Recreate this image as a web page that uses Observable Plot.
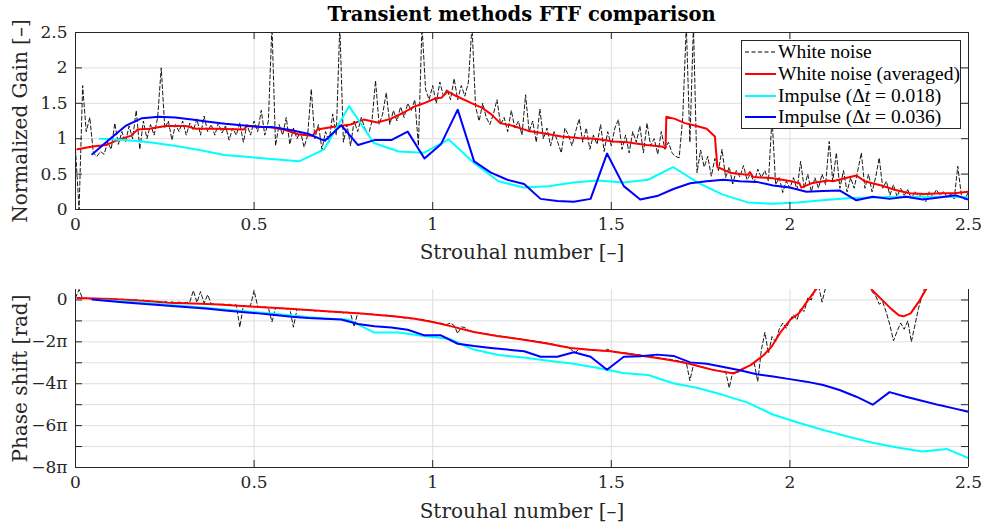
<!DOCTYPE html>
<html><head><meta charset="utf-8">
<script src="https://cdn.jsdelivr.net/npm/d3@7"></script>
<script src="https://cdn.jsdelivr.net/npm/@observablehq/plot@0.6"></script>
<style>
body{margin:0;background:#fff;}
#wrap{position:relative;width:985px;height:527px;font-family:"DejaVu Serif",serif;overflow:hidden;}
#title{position:absolute;left:75px;width:893px;top:0;height:28px;line-height:30px;text-align:center;font-weight:bold;font-size:19.5px;color:#000;}
#top{position:absolute;left:0;top:28px;}
#bottom{position:absolute;left:0;top:262px;}
#legend{position:absolute;left:741px;top:40px;width:220px;height:89px;box-sizing:border-box;border:1px solid #262626;background:#fff;font-family:"Liberation Serif",serif;font-size:19.5px;color:#000;}
.row{position:absolute;left:3px;height:22px;display:flex;align-items:center;white-space:nowrap;}
.row svg{margin-right:2px;}
svg{display:block}
</style></head><body>
<div id="wrap"><div id="title">Transient methods FTF comparison</div><div id="top"></div><div id="bottom"></div><div id="legend"></div></div>
<script>
// ---------- data ----------
const stTicks = [0, 0.5, 1, 1.5, 2, 2.5];
const gainTicks = [0, 0.5, 1, 1.5, 2, 2.5];
const phaseLabelTicks = [0, -2, -4, -6, -8];
const phaseGridTicks = [-8, -7, -6, -5, -4, -3, -2, -1, 0];

const seriesNames = ["White noise", "White noise (averaged)", "Impulse (Δt = 0.018)", "Impulse (Δt = 0.036)"];
const seriesColors = ["#000000", "#ff0000", "#00ffff", "#0000ff"];

// White noise gain, sampled every 0.01 in St (0 .. 2.5)
const noiseGain = [
0.85,0.00,1.75,1.10,1.30,0.80,0.75,0.82,0.78,0.95,
0.85,1.22,0.92,1.10,0.95,1.18,1.00,1.40,0.85,1.25,
1.00,1.20,1.05,1.30,2.00,1.15,1.25,0.98,1.20,1.10,
1.25,1.05,1.22,1.12,1.28,1.05,1.32,1.10,1.20,1.05,
1.22,1.08,1.18,0.98,1.15,1.05,1.22,0.95,1.20,1.05,
1.25,1.10,1.40,1.05,1.25,2.60,0.90,1.20,1.05,1.30,
0.92,1.15,1.00,1.10,0.88,1.05,1.70,1.00,1.20,0.85,
1.10,0.95,1.35,1.05,2.60,0.95,1.20,0.90,1.25,1.10,
1.30,1.15,1.05,1.25,1.82,1.20,1.35,1.65,1.20,1.40,
1.25,1.45,1.30,1.50,1.40,1.55,0.90,2.60,1.70,1.55,
1.75,1.50,1.80,1.60,1.70,1.55,1.85,1.55,1.75,1.60,
1.80,2.60,1.45,1.25,1.50,1.30,1.20,1.35,1.55,1.20,
1.30,1.10,1.40,1.15,1.25,1.05,1.62,1.10,1.25,0.95,
1.42,1.00,1.15,0.90,1.10,0.95,0.80,1.15,1.05,0.90,
1.10,1.28,0.95,1.15,0.85,1.05,0.92,1.20,0.82,1.10,
0.90,1.15,1.27,0.85,1.05,0.80,1.10,0.95,1.18,0.80,
1.22,0.90,1.00,0.78,1.10,0.85,0.95,0.80,0.75,0.73,
1.30,2.60,0.95,2.60,0.52,0.84,0.60,0.75,0.47,0.72,
0.55,0.85,0.45,0.60,0.36,0.55,0.46,0.62,0.42,0.50,
0.38,0.57,0.45,0.55,0.40,1.30,0.35,0.45,0.24,0.40,
0.30,0.45,0.28,0.68,0.30,0.50,0.25,0.45,0.30,0.50,
0.35,0.96,0.40,0.80,0.30,0.55,0.25,0.45,0.30,0.55,
0.80,0.30,0.50,0.25,0.45,0.73,0.30,0.40,0.20,0.35,
0.18,0.30,0.20,0.28,0.15,0.25,0.18,0.22,0.11,0.25,
0.18,0.28,0.20,0.25,0.18,0.22,0.15,0.61,0.20,0.14,
0.25];

// White noise phase (multiples of pi), sampled every 0.01 in St (0 .. 2.38), null = wrapped out of view
const noisePhase = [
0.10,0.50,0.05,0.10,0.05,0.08,0.03,0.06,0.02,0.05,
0.02,0.06,0.00,0.04,-0.02,0.02,-0.03,0.01,-0.04,-0.01,
-0.06,-0.03,-0.08,-0.05,-0.10,-0.07,-0.12,-0.09,-0.14,-0.10,
-0.15,-0.12,-0.10,0.45,-0.12,0.40,-0.15,0.25,-0.18,-0.20,
-0.22,-0.18,-0.25,-0.20,-0.27,-0.23,-1.30,-0.26,-0.30,-0.27,
0.45,-0.30,-0.36,-0.33,-0.38,-1.05,-0.38,-0.42,-0.39,-0.44,
-0.41,-1.30,-0.45,-0.48,-0.46,-0.50,-0.48,-0.53,-0.50,-0.55,
-0.52,-0.57,-0.54,-0.58,-0.55,-0.62,-0.58,-0.64,-1.28,-0.62,
-0.66,-0.64,-0.70,-0.67,-0.72,-0.70,-0.75,-0.72,-0.78,-0.75,
-0.80,-0.82,-0.86,-0.84,-0.90,-0.88,-0.94,-0.92,-0.98,-1.00,
-1.05,-1.08,-1.10,-1.14,-1.17,-1.10,-1.22,-1.60,-1.28,-1.32,
-1.45,-1.50,-1.55,-1.55,-1.60,-1.62,-1.65,-1.68,-1.70,-1.73,
-1.75,-1.78,-1.80,-1.83,-1.85,-1.88,-1.90,-1.93,-1.95,-1.98,
-2.00,-2.03,-2.06,-2.10,-2.12,-2.18,-2.20,-2.23,-2.26,-2.40,
-2.50,-2.33,-2.35,-2.37,-2.38,-2.40,-2.41,-2.42,-2.44,-2.35,
-2.45,-2.48,-2.50,-2.52,-2.53,-2.55,-2.58,-2.60,-2.62,-2.65,
-2.68,-2.70,-2.72,-2.75,-2.78,-2.80,-2.82,-2.86,-2.88,-2.92,
-2.95,-3.00,-3.85,-3.10,-3.12,-3.18,-3.22,-3.28,-3.32,-3.35,
-3.38,-3.42,-3.40,-4.20,-3.45,-3.50,-3.40,-3.30,-3.20,-3.10,
-3.00,-3.90,-2.40,-1.55,-2.55,-1.75,-2.00,-1.40,-1.10,-1.35,
-0.95,-0.70,-0.95,-0.40,-0.55,0.10,0.00,0.50,0.70,-0.10,
0.60,null,null,null,null,null,null,null,null,null,
null,null,0.70,0.40,0.20,-0.20,-0.10,-0.60,-1.20,-1.95,
-1.50,-1.10,-1.40,-1.00,-2.00,-1.20,-0.40,0.20,0.70];

// White noise (averaged) gain
const avgGainSt = [0.005,0.048,0.085,0.122,0.155,0.174,0.206,0.253,0.309,0.337,0.393,0.472,0.48,0.51,0.546,0.583,0.625,0.663,0.677,0.723,0.77,0.807,0.845,0.882,0.919,0.947,0.975,1.008,1.025,1.042,1.063,1.11,1.137,1.165,1.189,1.226,1.268,1.305,1.361,1.408,1.455,1.506,1.543,1.599,1.64,1.652,1.654,1.678,1.706,1.739,1.767,1.79,1.797,1.832,1.86,1.883,1.888,1.897,1.953,2.004,2.027,2.032,2.06,2.106,2.12,2.186,2.209,2.256,2.293,2.335,2.377,2.424,2.46,2.5];
const avgGain   = [0.85,0.89,0.91,0.99,1.04,1.13,1.14,1.18,1.18,1.14,1.14,1.13,1.18,1.17,1.16,1.13,1.06,1.04,1.13,1.17,1.20,1.27,1.23,1.28,1.37,1.45,1.50,1.57,1.58,1.67,1.61,1.50,1.44,1.34,1.22,1.18,1.11,1.08,1.03,1.01,1.00,0.96,0.95,0.91,0.89,0.87,1.31,1.28,1.22,1.18,1.14,1.03,0.60,0.52,0.50,0.49,0.53,0.46,0.44,0.40,0.37,0.31,0.37,0.41,0.40,0.48,0.40,0.34,0.28,0.23,0.22,0.23,0.23,0.25];

// White noise (averaged) phase (multiples of pi), null = wrapped out of view
const avgPhaseSt = [0.005,0.1,0.2,0.257,0.35,0.4,0.5,0.6,0.723,0.8,0.905,0.95,1.0,1.05,1.115,1.18,1.255,1.32,1.386,1.44,1.498,1.56,1.628,1.68,1.722,1.75,1.787,1.843,1.866,1.89,1.927,1.95,1.974,2.002,2.025,2.048,2.072,2.09,2.15,2.215,2.23,2.263,2.285,2.305,2.318,2.338,2.361,2.38,2.395];
const avgPhase   = [0.10,0.05,-0.05,-0.13,-0.18,-0.22,-0.32,-0.42,-0.56,-0.65,-0.80,-0.90,-1.05,-1.25,-1.53,-1.72,-1.90,-2.08,-2.29,-2.38,-2.45,-2.60,-2.77,-2.92,-3.06,-3.19,-3.35,-3.51,-3.30,-3.11,-2.63,-2.20,-1.53,-0.93,-0.64,-0.08,0.48,0.90,null,0.90,0.48,-0.08,-0.45,-0.73,-0.78,-0.64,-0.08,0.48,0.90];

// Impulse (dt = 0.018)
const imp018St    = [0.068,0.138,0.207,0.277,0.347,0.417,0.487,0.556,0.626,0.696,0.766,0.835,0.905,0.975,1.045,1.115,1.184,1.254,1.324,1.394,1.463,1.533,1.603,1.673,1.742,1.812,1.882,1.952,2.022,2.091,2.161,2.231,2.301,2.370,2.440,2.510];
const imp018Gain  = [1.00,0.98,0.95,0.90,0.84,0.77,0.74,0.71,0.68,0.85,1.46,0.94,0.82,0.80,0.99,0.66,0.40,0.31,0.33,0.38,0.41,0.38,0.42,0.60,0.38,0.21,0.10,0.08,0.10,0.13,0.16,0.17,0.18,0.18,0.18,0.17];
const imp018Phase = [0.00,-0.07,-0.16,-0.25,-0.35,-0.45,-0.56,-0.66,-0.78,-0.88,-0.95,-1.55,-1.55,-1.72,-1.85,-2.37,-2.63,-2.75,-2.90,-3.05,-3.25,-3.49,-3.58,-3.98,-4.20,-4.53,-4.90,-5.47,-5.85,-6.20,-6.52,-6.82,-7.05,-7.24,-7.12,-7.62];

// Impulse (dt = 0.036)
const imp036St    = [0.047,0.093,0.14,0.186,0.233,0.279,0.326,0.372,0.419,0.465,0.512,0.558,0.605,0.651,0.698,0.744,0.791,0.837,0.884,0.930,0.977,1.023,1.070,1.116,1.163,1.209,1.256,1.302,1.349,1.395,1.442,1.488,1.535,1.581,1.628,1.674,1.721,1.767,1.814,1.860,1.907,1.953,2.000,2.046,2.093,2.139,2.186,2.232,2.279,2.325,2.372,2.418,2.465,2.511];
const imp036Gain  = [0.78,0.98,1.18,1.29,1.31,1.30,1.27,1.24,1.21,1.19,1.17,1.16,1.12,1.07,0.97,1.19,0.91,0.98,0.98,1.10,0.72,0.92,1.41,0.68,0.52,0.42,0.36,0.15,0.12,0.11,0.15,0.79,0.33,0.14,0.19,0.29,0.37,0.40,0.42,0.40,0.39,0.34,0.31,0.25,0.26,0.27,0.13,0.18,0.15,0.18,0.14,0.17,0.20,0.12];
const imp036Phase = [0.02,-0.05,-0.12,-0.18,-0.24,-0.30,-0.36,-0.42,-0.50,-0.57,-0.64,-0.72,-0.80,-0.86,-0.90,-0.93,-1.15,-1.25,-1.32,-1.42,-1.69,-1.69,-2.09,-2.20,-2.29,-2.37,-2.45,-2.71,-2.71,-2.50,-2.71,-3.33,-2.71,-2.69,-2.61,-2.67,-2.98,-3.05,-3.20,-3.36,-3.55,-3.65,-3.78,-3.90,-4.06,-4.30,-4.62,-5.00,-4.40,-4.62,-4.82,-5.02,-5.20,-5.38];

// ---------- tables ----------
const noiseG = noiseGain.map((v, i) => ({st: i / 100, v}));
const noiseP = noisePhase.map((v, i) => ({st: i / 100, v}));
const zipT = (xs, ys) => xs.map((x, i) => ({st: x, v: ys[i]}));
const avgG = zipT(avgGainSt, avgGain), avgP = zipT(avgPhaseSt, avgPhase);
const i18G = zipT(imp018St, imp018Gain), i18P = zipT(imp018St, imp018Phase);
const i36G = zipT(imp036St, imp036Gain), i36P = zipT(imp036St, imp036Phase);

const AX = "#262626", GRID = "#dedede";
const FONT = '"DejaVu Serif", serif';
const W = 985, ML = 75, MR = 17;
const PW = W - ML - MR;

function lines(nG, aG, cG, bG) {
  return [
    Plot.line(nG, {x: "st", y: "v", stroke: seriesColors[0], strokeWidth: 0.9, strokeDasharray: "4,2.5", clip: true}),
    Plot.line(aG, {x: "st", y: "v", stroke: seriesColors[1], strokeWidth: 2, clip: true}),
    Plot.line(cG, {x: "st", y: "v", stroke: seriesColors[2], strokeWidth: 2, clip: true}),
    Plot.line(bG, {x: "st", y: "v", stroke: seriesColors[3], strokeWidth: 2, clip: true})
  ];
}

// ---------- top plot ----------
const H1 = 234, MT1 = 4, MB1 = 53, PH1 = H1 - MT1 - MB1;
const topPlot = Plot.plot({
  width: W, height: H1, marginLeft: ML, marginRight: MR, marginTop: MT1, marginBottom: MB1,
  style: {fontFamily: FONT, fontSize: "17px", color: AX, background: "white", overflow: "visible"},
  x: {domain: [0, 2.5]},
  y: {domain: [0, 2.5]},
  marks: [
    Plot.gridX(stTicks.slice(1, -1), {stroke: GRID, strokeOpacity: 1}),
    Plot.gridY(gainTicks.slice(1, -1), {stroke: GRID, strokeOpacity: 1}),
    ...lines(noiseG, avgG, i18G, i36G),
    Plot.frame({stroke: AX}),
    Plot.tickX(stTicks, {x: d => d, insetTop: PH1 - 7, stroke: AX}),
    Plot.tickX(stTicks, {x: d => d, insetBottom: PH1 - 7, stroke: AX}),
    Plot.tickY(gainTicks, {y: d => d, insetRight: PW - 7, stroke: AX}),
    Plot.tickY(gainTicks, {y: d => d, insetLeft: PW - 7, stroke: AX}),
    Plot.axisX(stTicks, {tickSize: 0, tickPadding: 8, tickFormat: d => String(d), label: null}),
    Plot.axisY(gainTicks, {tickSize: 0, tickPadding: 8, tickFormat: d => String(d), label: null}),
    Plot.text(["Strouhal number [–]"], {text: d => d, frameAnchor: "bottom", dy: 43, lineAnchor: "middle", textAnchor: "middle", fontSize: 20, fill: AX}),
    Plot.text(["Normalized Gain [–]"], {text: d => d, frameAnchor: "left", dx: -55, rotate: -90, lineAnchor: "middle", textAnchor: "middle", fontSize: 20, fill: AX})
  ]
});
document.getElementById("top").appendChild(topPlot);

// ---------- bottom plot ----------
const H2 = 265, MT2 = 27, MB2 = 60, PH2 = H2 - MT2 - MB2;
const piFmt = d => d === 0 ? "0" : "−" + (-d) + "π";
const bottomPlot = Plot.plot({
  width: W, height: H2, marginLeft: ML, marginRight: MR, marginTop: MT2, marginBottom: MB2,
  style: {fontFamily: FONT, fontSize: "17px", color: AX, background: "white", overflow: "visible"},
  x: {domain: [0, 2.5]},
  y: {domain: [-8, 0.5]},
  marks: [
    Plot.gridX(stTicks.slice(1, -1), {stroke: GRID, strokeOpacity: 1}),
    Plot.gridY(phaseGridTicks.slice(1), {stroke: GRID, strokeOpacity: 1}),
    ...lines(noiseP, avgP, i18P, i36P),
    Plot.ruleY([-8], {stroke: AX}),
    Plot.ruleX([0, 2.5], {stroke: AX}),
    Plot.tickX(stTicks, {x: d => d, insetTop: PH2 - 7, stroke: AX}),
    Plot.tickY(phaseGridTicks, {y: d => d, insetRight: PW - 7, stroke: AX}),
    Plot.tickY(phaseGridTicks, {y: d => d, insetLeft: PW - 7, stroke: AX}),
    Plot.axisX(stTicks, {tickSize: 0, tickPadding: 8, tickFormat: d => String(d), label: null}),
    Plot.axisY(phaseLabelTicks, {tickSize: 0, tickPadding: 8, tickFormat: piFmt, label: null}),
    Plot.text(["Strouhal number [–]"], {text: d => d, frameAnchor: "bottom", dy: 44, lineAnchor: "middle", textAnchor: "middle", fontSize: 20, fill: AX}),
    Plot.text(["Phase shift [rad]"], {text: d => d, frameAnchor: "left", dx: -55, rotate: -90, lineAnchor: "middle", textAnchor: "middle", fontSize: 20, fill: AX})
  ]
});
document.getElementById("bottom").appendChild(bottomPlot);

// ---------- legend ----------
const legend = document.getElementById("legend");
const rowCenters = [11, 32.5, 54.5, 75.5];
seriesNames.forEach((name, i) => {
  const row = document.createElement("div");
  row.className = "row";
  row.style.top = (rowCenters[i] - 11) + "px";
  const dash = i === 0 ? 'stroke-dasharray="4,2.5" stroke-width="1"' : 'stroke-width="2"';
  const label = name.replace("Δt", 'Δ<i style="text-decoration:overline">t</i>');
  row.innerHTML = `<svg width="31" height="22"><line x1="0" x2="31" y1="11" y2="11" stroke="${seriesColors[i]}" ${dash}/></svg><span>${label}</span>`;
  legend.appendChild(row);
});
</script></body></html>
